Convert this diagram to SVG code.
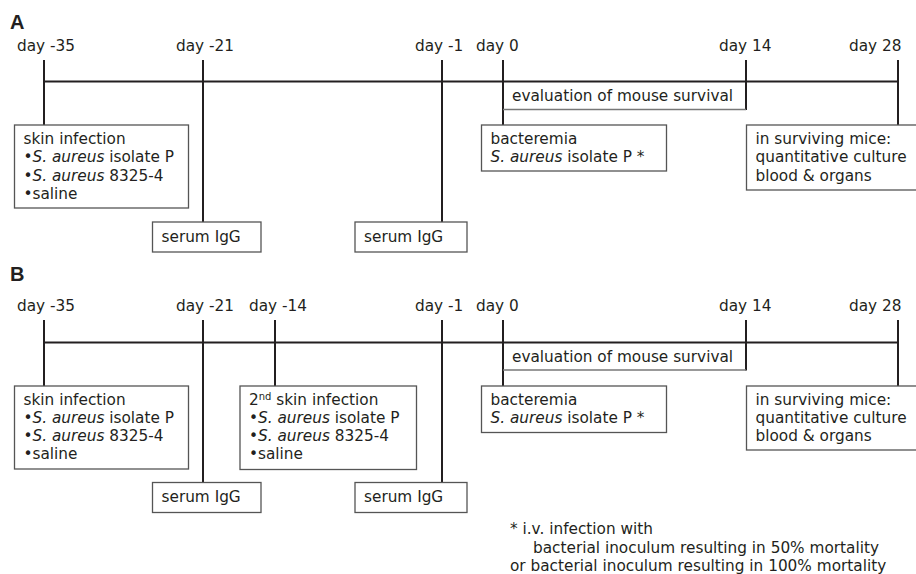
<svg xmlns="http://www.w3.org/2000/svg" width="916" height="574" viewBox="0 0 916 574">
<style>
text{font-family:"DejaVu Sans",Verdana,sans-serif;font-size:15.3px;fill:#231f20}
.lbl{font-family:"Liberation Sans",Arial,sans-serif;font-weight:bold;font-size:20px}
.it{font-style:italic}
.tick{stroke:#231f20;stroke-width:2;fill:none}
.box{fill:#fff;stroke:#555;stroke-width:1.3}
.brk{stroke:#777;stroke-width:1.5;fill:none}
</style>
<rect width="916" height="574" fill="#fff"/>

<!-- Panel A -->
<text class="lbl" x="10" y="29">A</text>
<g id="connectors-a">
<line class="tick" x1="44" y1="81.5" x2="898" y2="81.5"/>
<line class="tick" x1="44" y1="60" x2="44" y2="125"/>
<line class="tick" x1="203" y1="60" x2="203" y2="222"/>
<line class="tick" x1="442" y1="60" x2="442" y2="222"/>
<line class="tick" x1="503" y1="60" x2="503" y2="125"/>
<line class="tick" x1="746" y1="60" x2="746" y2="110"/>
<line class="tick" x1="898" y1="60" x2="898" y2="125"/>
<polyline class="brk" points="503,109.5 746,109.5"/>
</g>
<g id="days-a">
<text x="17" y="51">day -35</text>
<text x="176" y="51">day -21</text>
<text x="415" y="51">day -1</text>
<text x="476" y="51">day 0</text>
<text x="719" y="51">day 14</text>
<text x="849" y="51">day 28</text>
</g>
<g id="eval-a"><text x="512" y="101">evaluation of mouse survival</text></g>
<g id="skin-a">
<rect class="box" x="14.5" y="125" width="174" height="83"/>
<text x="23.5" y="144">skin infection</text>
<text x="23.5" y="162.3">•<tspan class="it">S. aureus</tspan> isolate P</text>
<text x="23.5" y="180.6">•<tspan class="it">S. aureus</tspan> 8325-4</text>
<text x="23.5" y="199">•saline</text>
</g>
<g id="igg1-a">
<rect class="box" x="152.5" y="222" width="108.5" height="30"/>
<text x="161.5" y="241.5">serum IgG</text>
</g>
<g id="igg2-a">
<rect class="box" x="355" y="222" width="112" height="30"/>
<text x="364" y="241.5">serum IgG</text>
</g>
<g id="bact-a">
<rect class="box" x="481.5" y="125" width="185" height="46"/>
<text x="490.5" y="144">bacteremia</text>
<text x="490.5" y="162.3"><tspan class="it">S. aureus</tspan> isolate P *</text>
</g>
<g id="surv-a">
<rect class="box" x="746.5" y="125" width="175" height="65"/>
<text x="755.5" y="144">in surviving mice:</text>
<text x="755.5" y="162.3">quantitative culture</text>
<text x="755.5" y="180.6">blood &amp; organs</text>
</g>

<!-- Panel B -->
<text class="lbl" x="10" y="281">B</text>
<g id="connectors-b">
<line class="tick" x1="44" y1="342.5" x2="898" y2="342.5"/>
<line class="tick" x1="44" y1="320" x2="44" y2="386"/>
<line class="tick" x1="203" y1="320" x2="203" y2="482.5"/>
<line class="tick" x1="275" y1="320" x2="275" y2="386"/>
<line class="tick" x1="442" y1="320" x2="442" y2="482.5"/>
<line class="tick" x1="503" y1="320" x2="503" y2="386"/>
<line class="tick" x1="746" y1="320" x2="746" y2="370.5"/>
<line class="tick" x1="898" y1="320" x2="898" y2="386"/>
<polyline class="brk" points="503,370 746,370"/>
</g>
<g id="days-b">
<text x="17" y="311">day -35</text>
<text x="176" y="311">day -21</text>
<text x="249" y="311">day -14</text>
<text x="415" y="311">day -1</text>
<text x="476" y="311">day 0</text>
<text x="719" y="311">day 14</text>
<text x="849" y="311">day 28</text>
</g>
<g id="eval-b"><text x="512" y="361.5">evaluation of mouse survival</text></g>
<g id="skin-b">
<rect class="box" x="14.5" y="386" width="174" height="83"/>
<text x="23.5" y="404.5">skin infection</text>
<text x="23.5" y="422.8">•<tspan class="it">S. aureus</tspan> isolate P</text>
<text x="23.5" y="441.1">•<tspan class="it">S. aureus</tspan> 8325-4</text>
<text x="23.5" y="459.4">•saline</text>
</g>
<g id="skin2-b">
<rect class="box" x="240" y="386" width="176.5" height="83.5"/>
<text x="249" y="404.5">2<tspan font-size="10" dy="-5">nd</tspan><tspan dy="5"> skin infection</tspan></text>
<text x="249" y="422.8">•<tspan class="it">S. aureus</tspan> isolate P</text>
<text x="249" y="441.1">•<tspan class="it">S. aureus</tspan> 8325-4</text>
<text x="249" y="459.4">•saline</text>
</g>
<g id="igg1-b">
<rect class="box" x="152.5" y="482.5" width="108.5" height="30"/>
<text x="161.5" y="502">serum IgG</text>
</g>
<g id="igg2-b">
<rect class="box" x="355" y="482.5" width="112" height="30"/>
<text x="364" y="502">serum IgG</text>
</g>
<g id="bact-b">
<rect class="box" x="481.5" y="386" width="185" height="46.5"/>
<text x="490.5" y="404.5">bacteremia</text>
<text x="490.5" y="422.8"><tspan class="it">S. aureus</tspan> isolate P *</text>
</g>
<g id="surv-b">
<rect class="box" x="746.5" y="386" width="175" height="64"/>
<text x="755.5" y="404.5">in surviving mice:</text>
<text x="755.5" y="422.8">quantitative culture</text>
<text x="755.5" y="441.1">blood &amp; organs</text>
</g>
<g id="footnote">
<text x="510" y="533.5">* i.v. infection with</text>
<text x="533" y="552.5">bacterial inoculum resulting in 50% mortality</text>
<text x="510" y="571">or bacterial inoculum resulting in 100% mortality</text>
</g>
</svg>
